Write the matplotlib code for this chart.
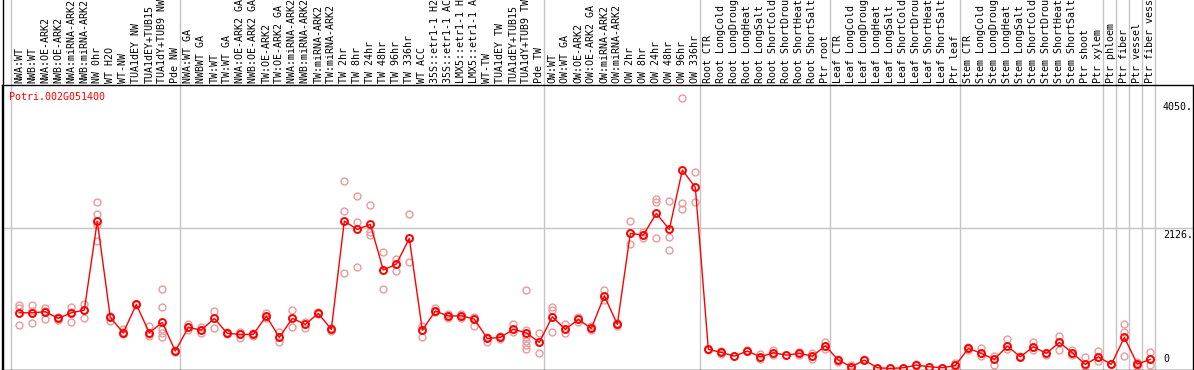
import matplotlib
matplotlib.use("Agg")
import matplotlib.pyplot as plt
import matplotlib.transforms as mtransforms
from matplotlib.lines import Line2D
import numpy as np

plt.rcParams['font.family'] = ['DejaVu Sans Mono']

title = "Potri.002G051400"

group_sizes = [13, 28, 12, 10, 10, 11, 1, 1, 1, 1]

labels = [
    "NWA:WT", "NWB:WT", "NWA:OE-ARK2", "NWB:OE-ARK2", "NWA:miRNA-ARK2", "NWB:miRNA-ARK2",
    "NW 0hr", "WT H2O", "WT-NW", "TUA1dEY NW", "TUA1dEY+TUB15", "TUA1dY+TUB9 NW", "Pde NW",
    "NWA:WT GA", "NWBWT GA", "TW:WT", "TW:WT GA", "NWA:OE-ARK2 GA", "NWB:OE-ARK2 GA",
    "TW:OE-ARK2", "TW:OE-ARK2 GA", "NWA:miRNA-ARK2 GA", "NWB:miRNA-ARK2 GA", "TW:miRNA-ARK2",
    "TW:miRNA-ARK2 GA", "TW 2hr", "TW 8hr", "TW 24hr", "TW 48hr", "TW 96hr", "TW 336hr",
    "WT ACC", "35S::etr1-1 H2O", "35S::etr1-1 ACC", "LMX5::etr1-1 H2O", "LMX5::etr1-1 ACC",
    "WT-TW", "TUA1dEY TW", "TUA1dEY+TUB15", "TUA1dY+TUB9 TW", "Pde TW",
    "OW:WT", "OW:WT GA", "OW:OE-ARK2", "OW:OE-ARK2 GA", "OW:miRNA-ARK2", "OW:miRNA-ARK2 GA",
    "OW 2hr", "OW 8hr", "OW 24hr", "OW 48hr", "OW 96hr", "OW 336hr",
    "Root CTR", "Root LongCold", "Root LongDrought", "Root LongHeat", "Root LongSalt",
    "Root ShortCold", "Root ShortDrought", "Root ShortHeat", "Root ShortSalt", "Ptr root",
    "Leaf CTR", "Leaf LongCold", "Leaf LongDrought", "Leaf LongHeat", "Leaf LongSalt",
    "Leaf ShortCold", "Leaf ShortDrought", "Leaf ShortHeat", "Leaf ShortSalt", "Ptr leaf",
    "Stem CTR", "Stem LongCold", "Stem LongDrought", "Stem LongHeat", "Stem LongSalt",
    "Stem ShortCold", "Stem ShortDrought", "Stem ShortHeat", "Stem ShortSalt", "Ptr shoot",
    "Ptr xylem",
    "Ptr phloem", "Ptr fiber", "Ptr vessel", "Ptr fiber vessel",
]

means = [
    852, 852, 868, 768, 852, 893, 2230, 783, 552, 978, 552, 708, 277,
    632, 592, 768, 543, 527, 527, 803, 482, 768, 678, 843, 603, 2230, 2105, 2181, 1494,
    1584, 1970, 592, 878, 803, 807, 757, 467, 482, 603, 552, 407,
    792, 603, 752, 617, 1108, 678, 2045, 2020, 2346, 2105, 2997, 2737,
    302, 257, 201, 277, 191, 251, 216, 242, 201, 356,
    141, 41, 141, 26, 16, 26, 66, 41, 26, 61,
    317, 242, 152, 352, 191, 341, 242, 407, 251, 76, 191,
    76, 482, 81, 152,
]

replicates = [
    [968, 920, 662], [968, 880, 692], [918, 880, 752], [790, 768, 750], [943, 860, 707],
    [983, 900, 768], [2511, 2336, 2170, 1934], [800, 783, 732], [603, 560, 530],
    [990, 978, 965], [652, 540, 502], [1204, 933, 607, 552, 482], [290, 277, 265],
    [678, 632, 600], [632, 592, 552], [878, 768, 617], [560, 543, 530], [560, 527, 467],
    [550, 527, 505], [843, 803, 770], [567, 482, 407], [893, 768, 642], [720, 678, 627],
    [860, 843, 830], [630, 603, 580], [2832, 2381, 1444], [2601, 2211, 1534],
    [2471, 2070, 2020], [1760, 1494, 1204], [1659, 1584, 1484], [2331, 1970, 1610],
    [657, 592, 482], [918, 878, 860], [830, 803, 780], [840, 807, 770], [790, 757, 657],
    [490, 467, 416], [510, 482, 455], [678, 603, 560], [1193, 592, 492, 432, 367, 302],
    [552, 407, 242],
    [933, 893, 567], [678, 603, 552], [792, 752, 720], [650, 617, 590], [1193, 1108, 1043],
    [700, 678, 660], [2230, 2045, 1885], [2070, 2020, 1980], [2561, 2521, 1970],
    [2531, 1995, 1790], [4075, 2496, 2406], [2962, 2511],
    [302, 290], [280, 257, 230], [201], [290, 277], [230, 191, 152], [292, 251, 215],
    [216], [270, 242, 215], [250, 201, 152], [407, 356, 302],
    [160, 141, 120], [70, 41], [160, 141], [26], [16], [26], [85, 66], [41], [26],
    [101, 61, 30],
    [340, 317, 290], [317, 242, 200], [201, 152, 66], [452, 352, 310], [210, 191],
    [407, 341, 300], [242, 220], [502, 407, 292], [290, 251, 215], [191, 76, 50],
    [281, 191, 130],
    [76], [678, 567, 206], [120, 81, 50], [257, 152, 66],
]

ytick_values = [0, 2126, 4050]
ytick_labels = ["0", "2126.", "4050."]

# ---------------------------------------------------------------- layout
W, H, DPI = 1194, 370, 100
fig = plt.figure(figsize=(W / DPI, H / DPI), dpi=DPI, facecolor='white')
left_px, right_px, top_px, bot_px = 2, 1193, 85, 369.5
ax = fig.add_axes([left_px / W, 1 - bot_px / H,
                   (right_px - left_px) / W, (bot_px - top_px) / H])

n = len(labels)
x = np.arange(n)
ax.set_xlim(-1.33, 90.28)
ax.set_ylim(0, 4275)
ax.set_xticks([])
ax.set_yticks([])
for s in ax.spines.values():
    s.set_color('black')
    s.set_linewidth(1.0)

grid_col = '#c4c4c4'
# horizontal grid line at middle tick
ax.axhline(ytick_values[1], color=grid_col, lw=1.0, zorder=0)

# group separators, extending into label area
ext = bot_px / (bot_px - top_px)
bounds = np.concatenate([[0], np.cumsum(group_sizes)]) - 0.64
for b in bounds:
    ax.axvline(b, ymin=0, ymax=ext, color=grid_col, lw=1.0, zorder=0, clip_on=False)

# left frame line full height
fig.add_artist(Line2D([2.5 / W, 2.5 / W], [1 - bot_px / H, 1], color='black', lw=1.0))

# replicates
rx, ry = [], []
for i, reps in enumerate(replicates):
    rx.extend([i] * len(reps))
    ry.extend(reps)
ax.plot(rx, ry, ls='none', marker='o', ms=5.0, mfc='none', mec='#ea9a9a', mew=1.0,
        zorder=2, clip_on=False)

# means line
ax.plot(x, means, color='red', lw=1.0, marker='o', ms=5.0, mfc='none', mec='red',
        mew=1.4, zorder=3, clip_on=False)

# category labels (rotated, clipped at figure top)
lab_trans = mtransforms.offset_copy(
    mtransforms.blended_transform_factory(ax.transData, ax.transAxes),
    fig=fig, x=0, y=2, units='dots')
for i, lab in enumerate(labels):
    ax.text(i, 1, lab, transform=lab_trans, rotation=90, ha='center', va='bottom',
            fontsize=7.2, color='black', clip_on=False)

# title
fig.text(9 / W, 1 - 97 / H, title, color='red', fontsize=7.2, ha='left', va='center')

# y tick labels inside right side
ybase = mtransforms.blended_transform_factory(ax.transAxes, ax.transData)
for v, s in zip(ytick_values, ytick_labels):
    if v == 0:
        tr = mtransforms.offset_copy(ybase, fig=fig, x=0, y=5, units='dots')
        va = 'bottom'
    else:
        tr = mtransforms.offset_copy(ybase, fig=fig, x=0, y=-2, units='dots')
        va = 'top'
    ax.text((1163 - left_px) / (right_px - left_px), v, s, transform=tr, ha='left',
            va=va, fontsize=7.2, color='black', clip_on=False)

fig.savefig('out.png', dpi=DPI, facecolor='white')
